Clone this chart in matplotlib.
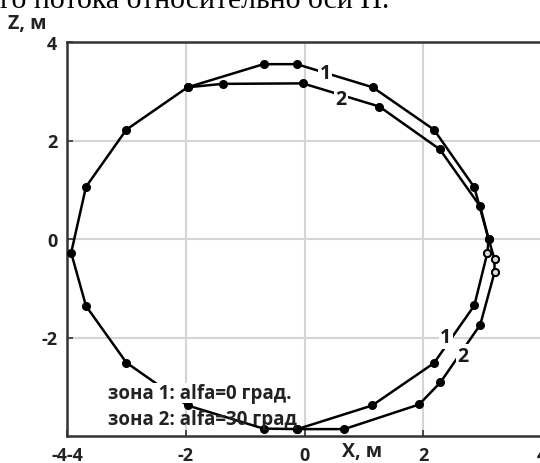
import matplotlib.pyplot as plt
from matplotlib.transforms import blended_transform_factory

# zone 1 (alfa = 0)
x1 = [-0.12, 1.14, 2.18, 2.86, 3.08, 3.10, 2.86, 2.18, 1.15, -0.13, -0.69,
      -1.97, -3.0, -3.68, -3.93, -3.68, -3.0, -1.97, -0.69, -0.12]
z1 = [-3.86, -3.38, -2.52, -1.35, -0.28, 0.0, 1.05, 2.22, 3.08, 3.55, 3.55,
      3.08, 2.22, 1.06, -0.28, -1.36, -2.51, -3.38, -3.85, -3.86]
# zone 2 (alfa = 30)
x2 = [-0.12, 0.67, 1.93, 2.29, 2.96, 3.2, 3.2, 3.10, 2.96, 2.28, 1.26, -0.03,
      -1.38, -1.97]
z2 = [-3.86, -3.86, -3.36, -2.91, -1.74, -0.68, -0.41, 0.0, 0.66, 1.82, 2.69,
      3.16, 3.15, 3.08]
# points drawn as open rings in the picture
hollow_x = [3.08, 3.2, 3.2]
hollow_z = [-0.28, -0.41, -0.68]

xticks = [-4, -2, 0, 2, 4]
xtick_labels = ['-4-4', '-2', '0', '2', '4']
yticks = [-2, 0, 2, 4]
ytick_labels = ['-2', '0', '2', '4']

W, H = 540, 464
fig = plt.figure(figsize=(W / 100, H / 100), dpi=100)
ax = fig.add_axes([67 / W, 27 / H, (542 - 67) / W, (437 - 43) / H])

lw = dict(color='black', lw=1.8, marker='o', ms=5.5, zorder=3)
ax.plot(x1, z1, **lw)
ax.plot(x2, z2, **lw)
ax.plot(hollow_x, hollow_z, ls='none', marker='o', ms=5, mfc='#d8d8d8',
        mec='black', mew=1.3, zorder=4)

ax.set_xlim(-4, 4)
ax.set_ylim(-4, 4)
ax.set_xticks(xticks)
ax.set_xticklabels(xtick_labels)
ax.set_yticks(yticks)
ax.set_yticklabels(ytick_labels)
ax.grid(True, color='#d4d4d4', lw=1.5, zorder=0)
ax.tick_params(direction='in', length=4, width=1.2, color='#333333',
               labelsize=13, pad=7)
for lab in ax.get_xticklabels() + ax.get_yticklabels():
    lab.set_fontfamily('Open Sans')
    lab.set_fontweight('bold')
    lab.set_color('#222222')
for s in ax.spines.values():
    s.set_color('#333333')
    s.set_linewidth(1.8)
ax.spines['right'].set_visible(False)

bold = dict(family='Open Sans', weight='bold', color='#222222')
trans = blended_transform_factory(ax.transData, ax.transAxes)
ax.text(0.97, -0.038, 'X, м', transform=trans, ha='center', va='center',
        fontsize=14, clip_on=False, **bold)
fig.text(8 / W, 1 - 24 / H, 'Z, м', ha='left', va='center', fontsize=14, **bold)

box = dict(facecolor='white', edgecolor='none', pad=1)
for xx, zz, t in [(0.35, 3.37, '1'), (0.62, 2.84, '2'),
                  (2.38, -2.0, '1'), (2.66, -2.37, '2')]:
    ax.text(xx, zz, t, ha='center', va='center', fontsize=14,
            family='Open Sans', weight='bold', color='#1a1a1a',
            bbox=box, zorder=5)

ax.text(-3.31, -3.12, 'зона 1: alfa=0 град.', ha='left', va='center',
        fontsize=13.5, bbox=dict(facecolor='white', edgecolor='none', pad=0),
        zorder=5, **bold)
ax.text(-3.31, -3.65, 'зона 2: alfa=30 град', ha='left', va='center',
        fontsize=13.5, zorder=6, **bold)

fig.text(0, 1 - 8 / H, 'го потока относительно оси Н.', ha='left',
         va='baseline', fontsize=21.5, family='Liberation Serif',
         color='black')

fig.savefig('out.png', dpi=100)
